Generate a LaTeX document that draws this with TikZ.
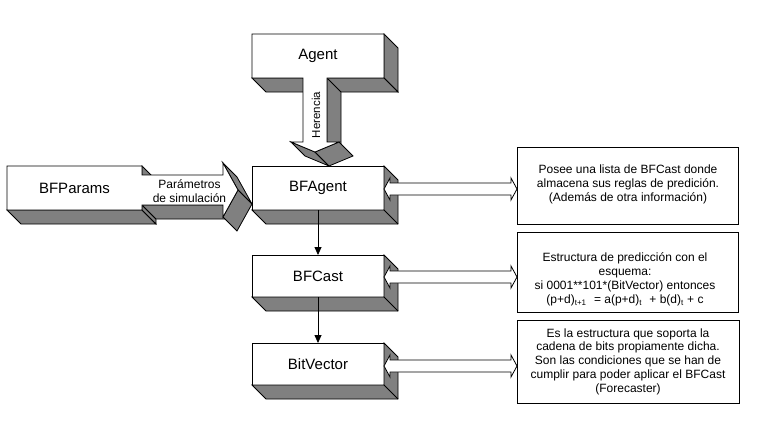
\documentclass[tikz,border=0pt]{standalone}
\usepackage{fontspec}
\setmainfont{Liberation Sans}
\usetikzlibrary{calc,arrows.meta}
\definecolor{shadegray}{RGB}{128,128,128}
\newcommand\boxshade[1]{%
  \draw[face] (#1.north east) -- ++(14,14) -- ($(#1.south east)+(14,14)$) -- ($(#1.south west)+(14,14)$) -- (#1.south west) -- (#1.south east) -- cycle;
  \draw (#1.south east) -- ++(14,14);}
\newcommand\hollowlink[3]{%
  \coordinate (hs) at ($(#1.east)+(0,#3)$);
  \coordinate (he) at (#2.west |- hs);
  \draw[hollow] (hs) -- ++(6,-11) -- ++(0,5) -- ($(he)+(-6,-6)$) -- ++(0,-5) -- (he) -- ++(-6,11) -- ++(0,-5) -- ($(hs)+(6,6)$) -- ++(0,5) -- cycle;}
\begin{document}
\begin{tikzpicture}[x=1pt,y=-1pt, line width=0.8pt, line join=miter,
  face/.style={fill=shadegray, draw=black},
  front/.style={fill=white, draw=black},
  boxlabel/.style={font=\fontsize{15}{17}\selectfont, inner sep=0pt},
  block/.style={draw, fill=white, minimum width=132pt, minimum height=44pt, inner sep=0pt, outer sep=0pt, font=\fontsize{15}{17}\selectfont},
  descbox/.style={draw, fill=white, inner sep=0pt, outer sep=0pt},
  desctext/.style={align=center, font=\fontsize{12}{13.8}\selectfont, inner sep=0pt},
  link/.style={-{Triangle[length=8pt,width=7pt]}},
  hollow/.style={draw, fill=white}]
\useasboundingbox (0,0) rectangle (757,428);

% Agent with inheritance arrow
\draw[face] (384,34) -- (398,48) -- (398,92) -- (384,78) -- cycle;
\draw[face] (252,78) -- (266,92) -- (398,92) -- (384,78) -- cycle;
\draw[face] (327,78) -- (341,92) -- (341,156) -- (327,142) -- cycle;
\draw[face] (291,142) -- (315,152) -- (329,166) -- (305,156) -- cycle;
\draw[face] (315,152) -- (339,142) -- (353,156) -- (329,166) -- cycle;
\draw[front] (252,34) -- (384,34) -- (384,78) -- (327,78) -- (327,142) -- (339,142) -- (315,152) -- (291,142) -- (303,142) -- (303,78) -- (252,78) -- cycle;
\node[boxlabel] (Agent) at (318,56) {Agent};
\node[rotate=90, font=\fontsize{11.5}{13}\selectfont, inner sep=0pt] (herencia) at (316,115) {Herencia};

% BFParams with parameter arrow
\draw[face] (142,166) -- (156,180) -- (156,189) -- (142,175) -- cycle;
\draw[face] (7,210) -- (21,224) -- (156,224) -- (142,210) -- cycle;
\draw[face] (142,205) -- (156,219) -- (156,224) -- (142,210) -- cycle;
\draw[face] (142,205) -- (156,219) -- (237,219) -- (223,205) -- cycle;
\draw[face] (223,163) -- (238,190) -- (252,204) -- (237,177) -- cycle;
\draw[face] (238,190) -- (223,217) -- (237,231) -- (252,204) -- cycle;
\draw[front] (7,166) -- (142,166) -- (142,175) -- (223,175) -- (223,163) -- (238,190) -- (223,217) -- (223,205) -- (142,205) -- (142,210) -- (7,210) -- cycle;
\node[boxlabel] (BFParams) at (74.5,188) {BFParams};
\node[desctext] (param) at (189.5,191) {Parámetros\\de simulación};

% class boxes
\node[block] (BFAgent) at (318,188) {BFAgent};
\boxshade{BFAgent}
\node[block, minimum height=42pt] (BFCast) at (318,276) {BFCast};
\boxshade{BFCast}
\node[block, minimum height=42pt] (BitVector) at (318,364) {BitVector};
\boxshade{BitVector}

\draw[link] (BFAgent.south) -- (BFCast.north);
\draw[link] (BFCast.south) -- (BitVector.north);

% descriptions
\node[descbox, minimum width=221pt, minimum height=77pt] (d1) at (627.5,185.5) {};
\node[desctext] (d1t) at (628,184.5) {Posee una lista de BFCast donde\\almacena sus reglas de predición.\\(Además de otra información)};
\node[descbox, minimum width=221pt, minimum height=80pt] (d2) at (627.5,272) {};
\node[desctext] (d2t) at (625,279.5) {Estructura de predicción con el\\esquema:\\si 0001**101*(BitVector) entonces\\(p+d)\textsubscript{t+1}\hspace{4pt} = a(p+d)\textsubscript{t}\hspace{4pt} + b(d)\textsubscript{t} + c};
\node[descbox, minimum width=222pt, minimum height=83pt] (d3) at (628,361.5) {};
\node[desctext] (d3t) at (628,361.5) {Es la estructura que soporta la\\cadena de bits propiamente dicha.\\Son las condiciones que se han de\\cumplir para poder aplicar el BFCast\\(Forecaster)};

\hollowlink{BFAgent}{d1}{1}
\hollowlink{BFCast}{d2}{1}
\hollowlink{BitVector}{d3}{2}
\end{tikzpicture}
\end{document}
